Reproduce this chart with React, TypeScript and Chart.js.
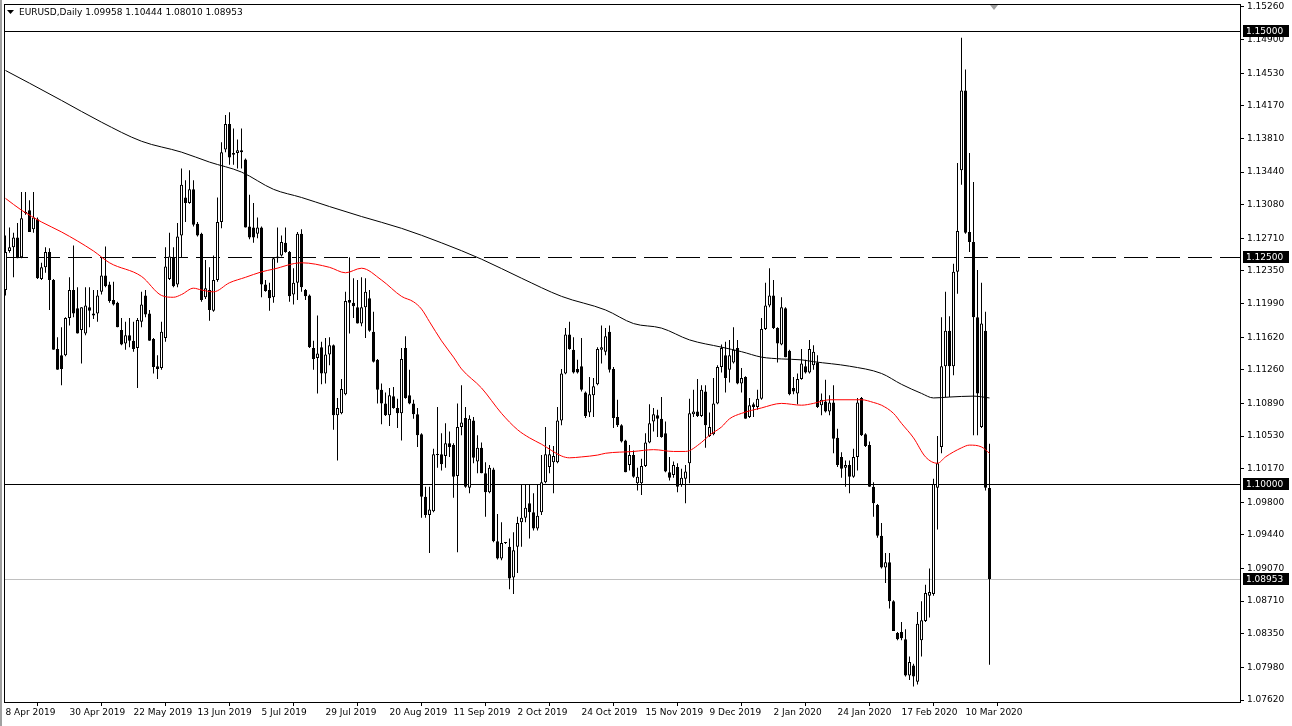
import React, { useEffect, useRef } from 'react';
import { Chart, registerables } from 'chart.js';

Chart.register(...registerables);

const chartTitle = 'EURUSD,Daily 1.09958 1.10444 1.08010 1.08953';

const opens = [
  1.1214, 1.1257, 1.1261, 1.1272, 1.1250, 1.1300, 1.1302, 1.1281, 1.1292, 1.1226,
  1.1239, 1.1256, 1.1225, 1.1149, 1.1142, 1.1142, 1.1183, 1.1214, 1.1194, 1.1170,
  1.1166, 1.1195, 1.1188, 1.1188, 1.1212, 1.1230, 1.1220, 1.1203, 1.1200, 1.1170,
  1.1155, 1.1164, 1.1158, 1.1150, 1.1179, 1.1208, 1.1188, 1.1160, 1.1130, 1.1128,
  1.1161, 1.1226, 1.1250, 1.1220, 1.1274, 1.1316, 1.1310, 1.1325, 1.1287, 1.1276,
  1.1206, 1.1214, 1.1191, 1.1225, 1.1289, 1.1369, 1.1397, 1.1365, 1.1365, 1.1368,
  1.1358, 1.1284, 1.1283, 1.1276, 1.1283, 1.1220, 1.1214, 1.1206, 1.1251, 1.1252,
  1.1266, 1.1256, 1.1209, 1.1222, 1.1276, 1.1214, 1.1208, 1.1150, 1.1139, 1.1151,
  1.1122, 1.1143, 1.1153, 1.1076, 1.1078, 1.1099, 1.1203, 1.1200, 1.1195, 1.1177,
  1.1195, 1.1205, 1.1168, 1.1137, 1.1104, 1.1089, 1.1076, 1.1097, 1.1084, 1.1078,
  1.1150, 1.1098, 1.1089, 1.1077, 1.1055, 1.0986, 1.0966, 1.0970, 1.1033, 1.1033,
  1.1031, 1.1045, 1.1043, 1.1009, 1.1063, 1.1073, 1.0996, 1.1070, 1.1025, 1.1040,
  1.1012, 1.0991, 1.1016, 1.0937, 1.0918, 1.0935, 1.0931, 1.0897, 1.0931, 1.0958,
  1.0963, 1.0979, 1.0969, 1.0951, 1.0969, 1.1002, 1.1019, 1.1024, 1.1024, 1.1070,
  1.1122, 1.1165, 1.1148, 1.1127, 1.1130, 1.1101, 1.1079, 1.1098, 1.1110, 1.1148,
  1.1146, 1.1168, 1.1127, 1.1074, 1.1065, 1.1048, 1.1021, 1.1032, 1.1001, 1.1001,
  1.1020, 1.1046, 1.1069, 1.1076, 1.1072, 1.1056, 1.1013, 1.1010, 1.1019, 1.0999,
  1.1006, 1.1023, 1.1077, 1.1080, 1.1075, 1.1102, 1.1053, 1.1055, 1.1089, 1.1129,
  1.1142, 1.1126, 1.1134, 1.1150, 1.1111, 1.1118, 1.1074, 1.1088, 1.1085, 1.1094,
  1.1171, 1.1197, 1.1208, 1.1172, 1.1154, 1.1194, 1.1147, 1.1106, 1.1100, 1.1116,
  1.1130, 1.1123, 1.1131, 1.1134, 1.1087, 1.1091, 1.1080, 1.1090, 1.1051, 1.1030,
  1.1018, 1.1021, 1.1008, 1.1030, 1.1095, 1.1055, 1.1043, 1.0997, 1.0977, 1.0943,
  1.0908, 1.0914, 1.0871, 1.0836, 1.0837, 1.0829, 1.0789, 1.0800, 1.0782, 1.0828,
  1.0849, 1.0877, 1.0879, 1.0996, 1.1041, 1.1130, 1.1169, 1.1130, 1.1234, 1.1346,
  1.1434, 1.1278, 1.1267, 1.1184, 1.1063, 1.1169, 1.09958,
];

const highs = [
  1.1274, 1.1283, 1.1277, 1.1288, 1.1322, 1.1322, 1.1313, 1.1322, 1.1294, 1.1244,
  1.1261, 1.1260, 1.1226, 1.1162, 1.1173, 1.1184, 1.1228, 1.1263, 1.1217, 1.1195,
  1.1217, 1.1217, 1.1214, 1.1214, 1.1250, 1.1262, 1.1223, 1.1223, 1.1201, 1.1183,
  1.1179, 1.1183, 1.1179, 1.1183, 1.1212, 1.1214, 1.1192, 1.1161, 1.1142, 1.1179,
  1.1261, 1.1277, 1.1261, 1.1288, 1.1348, 1.1335, 1.1346, 1.1335, 1.1289, 1.1277,
  1.1247, 1.1239, 1.1252, 1.1316, 1.1377, 1.1407, 1.1410, 1.1392, 1.1380, 1.1392,
  1.1359, 1.1319, 1.1310, 1.1294, 1.1284, 1.1225, 1.1222, 1.1250, 1.1283, 1.1274,
  1.1283, 1.1257, 1.1238, 1.1278, 1.1281, 1.1215, 1.1209, 1.1158, 1.1186, 1.1157,
  1.1161, 1.1162, 1.1154, 1.1095, 1.1116, 1.1212, 1.1250, 1.1227, 1.1225, 1.1228,
  1.1227, 1.1214, 1.1190, 1.1138, 1.1111, 1.1101, 1.1106, 1.1107, 1.1094, 1.1150,
  1.1163, 1.1126, 1.1093, 1.1084, 1.1056, 1.0997, 1.0997, 1.1039, 1.1085, 1.1056,
  1.1067, 1.1058, 1.1045, 1.1089, 1.1109, 1.1085, 1.1076, 1.1074, 1.1054, 1.1046,
  1.1024, 1.1021, 1.1018, 1.0967, 1.0958, 1.0936, 1.0940, 1.0947, 1.0964, 1.0999,
  1.0999, 1.0999, 1.0990, 1.0999, 1.1032, 1.1063, 1.1043, 1.1042, 1.1085, 1.1127,
  1.1172, 1.1179, 1.1162, 1.1137, 1.1161, 1.1102, 1.1118, 1.1117, 1.1151, 1.1175,
  1.1172, 1.1175, 1.1129, 1.1093, 1.1066, 1.1049, 1.1043, 1.1037, 1.1018, 1.1028,
  1.1056, 1.1088, 1.1084, 1.1082, 1.1096, 1.1069, 1.1030, 1.1025, 1.1023, 1.1017,
  1.1021, 1.1094, 1.1104, 1.1116, 1.1109, 1.1109, 1.1079, 1.1117, 1.1131, 1.1154,
  1.1157, 1.1159, 1.1173, 1.1159, 1.1128, 1.1119, 1.1095, 1.1090, 1.1104, 1.1183,
  1.1222, 1.1238, 1.1225, 1.1173, 1.1206, 1.1195, 1.1148, 1.1118, 1.1122, 1.1149,
  1.1137, 1.1159, 1.1153, 1.1142, 1.1100, 1.1115, 1.1098, 1.1109, 1.1061, 1.1035,
  1.1026, 1.1026, 1.1039, 1.1095, 1.1096, 1.1056, 1.1047, 1.1002, 1.0978, 1.0957,
  1.0924, 1.0924, 1.0872, 1.0837, 1.0848, 1.0840, 1.0810, 1.0802, 1.0859, 1.0871,
  1.0889, 1.0907, 1.1006, 1.1053, 1.1184, 1.1212, 1.1185, 1.1243, 1.1354, 1.1492,
  1.1457, 1.1365, 1.1333, 1.1236, 1.1222, 1.1190, 1.10444,
];

const lows = [
  1.1208, 1.1255, 1.1228, 1.1249, 1.1249, 1.1297, 1.1278, 1.1277, 1.1226, 1.1225,
  1.1233, 1.1192, 1.1148, 1.1126, 1.1109, 1.1141, 1.1175, 1.1184, 1.1166, 1.1133,
  1.1164, 1.1173, 1.1182, 1.1179, 1.1209, 1.1217, 1.1200, 1.1197, 1.1173, 1.1153,
  1.1148, 1.1151, 1.1146, 1.1106, 1.1173, 1.1184, 1.1158, 1.1122, 1.1116, 1.1126,
  1.1157, 1.1225, 1.1217, 1.1217, 1.1250, 1.1289, 1.1309, 1.1284, 1.1273, 1.1201,
  1.1204, 1.1180, 1.1190, 1.1223, 1.1282, 1.1366, 1.1352, 1.1352, 1.1348, 1.1348,
  1.1283, 1.1270, 1.1266, 1.1271, 1.1206, 1.1212, 1.1191, 1.1200, 1.1244, 1.1251,
  1.1255, 1.1201, 1.1198, 1.1203, 1.1212, 1.1203, 1.1150, 1.1126, 1.1100, 1.1110,
  1.1111, 1.1131, 1.1060, 1.1026, 1.1077, 1.1098, 1.1166, 1.1183, 1.1177, 1.1174,
  1.1161, 1.1168, 1.1134, 1.1089, 1.1066, 1.1075, 1.1064, 1.1083, 1.1062, 1.1048,
  1.1094, 1.1088, 1.1072, 1.1041, 1.0963, 1.0963, 1.0924, 1.0969, 1.1018, 1.1015,
  1.1018, 1.1030, 1.0985, 1.0925, 1.1054, 1.0996, 1.0990, 1.1023, 1.1012, 1.1012,
  1.0964, 1.0990, 1.0936, 1.0917, 1.0916, 1.0934, 1.0884, 1.0879, 1.0902, 1.0931,
  1.0958, 1.0940, 1.0949, 1.0949, 1.0966, 1.1001, 1.1012, 1.0990, 1.1023, 1.1065,
  1.1121, 1.1148, 1.1122, 1.1122, 1.1102, 1.1073, 1.1074, 1.1074, 1.1109, 1.1133,
  1.1142, 1.1123, 1.1062, 1.1063, 1.1046, 1.1013, 1.1015, 1.1007, 1.0993, 1.0988,
  1.1019, 1.1045, 1.1058, 1.1052, 1.1051, 1.1013, 1.1004, 1.1007, 1.0991, 1.0997,
  1.0979, 1.1001, 1.1074, 1.1074, 1.1074, 1.1040, 1.1052, 1.1054, 1.1088, 1.1123,
  1.1101, 1.1112, 1.1133, 1.1110, 1.1101, 1.1072, 1.1073, 1.1074, 1.1082, 1.1093,
  1.1170, 1.1195, 1.1171, 1.1134, 1.1153, 1.1140, 1.1098, 1.1099, 1.1088, 1.1115,
  1.1122, 1.1122, 1.1126, 1.1084, 1.1076, 1.1079, 1.1076, 1.1034, 1.1019, 1.1007,
  1.0997, 1.0990, 1.1007, 1.1015, 1.1053, 1.1041, 1.0997, 1.0964, 1.0941, 1.0907,
  1.0891, 1.0863, 1.0838, 1.0828, 1.0828, 1.0788, 1.0784, 1.0777, 1.0779, 1.0810,
  1.0848, 1.0853, 1.0877, 1.0950, 1.1034, 1.1096, 1.1096, 1.1120, 1.1210, 1.1330,
  1.1276, 1.1256, 1.1054, 1.1054, 1.1062, 1.0993, 1.0801,
];

const closes = [
  1.1256, 1.1261, 1.1272, 1.1249, 1.1293, 1.1299, 1.1278, 1.1294, 1.1227, 1.1239,
  1.1256, 1.1225, 1.1148, 1.1126, 1.1127, 1.1183, 1.1214, 1.1188, 1.1166, 1.1195,
  1.1197, 1.1191, 1.1186, 1.1208, 1.1230, 1.1218, 1.1202, 1.1198, 1.1173, 1.1154,
  1.1164, 1.1158, 1.1149, 1.1181, 1.1198, 1.1187, 1.1158, 1.1129, 1.1127, 1.1168,
  1.1240, 1.1251, 1.1218, 1.1273, 1.1330, 1.1310, 1.1325, 1.1286, 1.1274, 1.1203,
  1.1216, 1.1192, 1.1225, 1.1289, 1.1366, 1.1397, 1.1360, 1.1363, 1.1368, 1.1366,
  1.1283, 1.1272, 1.1272, 1.1283, 1.1220, 1.1213, 1.1205, 1.1249, 1.1249, 1.1267,
  1.1256, 1.1207, 1.1222, 1.1276, 1.1217, 1.1207, 1.1151, 1.1138, 1.1144, 1.1122,
  1.1143, 1.1153, 1.1076, 1.1084, 1.1105, 1.1202, 1.1200, 1.1196, 1.1177, 1.1195,
  1.1212, 1.1169, 1.1135, 1.1104, 1.1089, 1.1076, 1.1098, 1.1084, 1.1078, 1.1138,
  1.1095, 1.1089, 1.1077, 1.1054, 1.0986, 1.0966, 1.0972, 1.1033, 1.1032, 1.1022,
  1.1045, 1.1041, 1.1008, 1.1063, 1.1068, 1.0997, 1.1072, 1.1029, 1.1040, 1.1012,
  1.0991, 1.1018, 1.0937, 1.0918, 1.0935, 1.0935, 1.0896, 1.0927, 1.0957, 1.0963,
  1.0974, 1.0969, 1.0951, 1.0965, 1.1002, 1.1033, 1.1033, 1.1031, 1.1070, 1.1122,
  1.1165, 1.1149, 1.1123, 1.1123, 1.1104, 1.1075, 1.1099, 1.1108, 1.1149, 1.1151,
  1.1163, 1.1126, 1.1073, 1.1065, 1.1047, 1.1013, 1.1032, 1.1008, 1.1008, 1.1020,
  1.1046, 1.1067, 1.1077, 1.1072, 1.1052, 1.1014, 1.1007, 1.1021, 1.0997, 1.1007,
  1.1014, 1.1078, 1.1080, 1.1075, 1.1104, 1.1065, 1.1063, 1.1089, 1.1129, 1.1150,
  1.1117, 1.1142, 1.1148, 1.1111, 1.1117, 1.1072, 1.1087, 1.1085, 1.1094, 1.1171,
  1.1197, 1.1208, 1.1172, 1.1155, 1.1195, 1.1140, 1.1099, 1.1102, 1.1116, 1.1133,
  1.1123, 1.1149, 1.1146, 1.1085, 1.1093, 1.1080, 1.1090, 1.1050, 1.1021, 1.1017,
  1.1021, 1.1008, 1.1030, 1.1090, 1.1054, 1.1042, 1.0997, 1.0979, 1.0943, 1.0908,
  1.0914, 1.0871, 1.0838, 1.0829, 1.0830, 1.0789, 1.0804, 1.0788, 1.0846, 1.0850,
  1.0880, 1.0881, 1.1000, 1.1023, 1.1130, 1.1169, 1.1130, 1.1234, 1.1279, 1.1434,
  1.1277, 1.1267, 1.1184, 1.1100, 1.1177, 1.0996, 1.08953,
];

// Red moving average, read at selected bars
const redMaBars = [
  0, 4, 9, 14, 22, 26, 34, 39, 42, 44, 47, 49, 52, 56, 60, 64, 67, 74, 81, 85,
  89, 94, 99, 102, 104, 106, 109, 112, 114, 119, 124, 128, 131, 134, 139, 141, 144, 148, 150, 157,
  162, 167, 170, 174, 176, 179, 181, 184, 189, 194, 199, 202, 206, 214, 217, 219, 222, 224, 227, 230,
  233, 235, 239, 241, 244, 246,
];
const redMaValues = [
  1.1315, 1.1302, 1.1289, 1.1278, 1.1257, 1.1244, 1.1229, 1.1208, 1.1206, 1.1209, 1.1216, 1.1214, 1.1212, 1.1222, 1.1228, 1.1234, 1.1237, 1.1244, 1.1239, 1.1233,
  1.1238, 1.1225, 1.1207, 1.1201, 1.1193, 1.1179, 1.1158, 1.1140, 1.1127, 1.1106, 1.1078, 1.1060, 1.1051, 1.1044, 1.1031, 1.1029, 1.1030, 1.1032, 1.1034, 1.1036,
  1.1038, 1.1036, 1.1036, 1.1046, 1.1054, 1.1063, 1.1072, 1.1078, 1.1084, 1.1089, 1.1087, 1.1089, 1.1093, 1.1093, 1.1090, 1.1087, 1.1078, 1.1067, 1.1051, 1.1030,
  1.1023, 1.1030, 1.1040, 1.1043, 1.1041, 1.1034,
];

// Black (slow) moving average, read at selected bars
const blackMaBars = [
  0, 6, 14, 24, 34, 44, 51, 59, 67, 74, 81, 89, 99, 109, 119, 129, 139, 150, 157, 164,
  171, 179, 184, 189, 194, 199, 202, 211, 219, 224, 229, 232, 236, 242, 246,
];
const blackMaValues = [
  1.1456, 1.1442, 1.1423, 1.1399, 1.1378, 1.1366, 1.1355, 1.1344, 1.1325, 1.1316, 1.1306, 1.1295, 1.1282, 1.1266, 1.1248, 1.1227, 1.1207, 1.1192, 1.1177, 1.1172,
  1.1159, 1.1151, 1.1146, 1.1140, 1.1138, 1.1137, 1.1135, 1.1130, 1.1122, 1.1110, 1.1100, 1.1095, 1.1096, 1.1097, 1.1095,
];

const dateLabels = [
  '8 Apr 2019', '30 Apr 2019', '22 May 2019', '13 Jun 2019', '5 Jul 2019', '29 Jul 2019',
  '20 Aug 2019', '11 Sep 2019', '2 Oct 2019', '24 Oct 2019', '15 Nov 2019', '9 Dec 2019',
  '2 Jan 2020', '24 Jan 2020', '17 Feb 2020', '10 Mar 2020',
];
const dateLabelBars = [0, 16, 32, 48, 64, 80, 96, 112, 128, 144, 160, 176, 192, 208, 224, 240];

const priceTicks = [
  1.0762, 1.0798, 1.0835, 1.0871, 1.0907, 1.0944, 1.098, 1.1017, 1.1053, 1.1089, 1.1126,
  1.1162, 1.1199, 1.1235, 1.1271, 1.1308, 1.1344, 1.1381, 1.1417, 1.1453, 1.149, 1.1526,
];

const solidLevels = [1.15, 1.1];
const dashedLevels = [1.125];
const bidPrice = 1.08953;

const FONT_FAMILY = '"DejaVu Sans", Tahoma, sans-serif';
const FONT_SIZE = 9;

export default function App() {
  const canvasRef = useRef<HTMLCanvasElement | null>(null);

  useEffect(() => {
    document.body.style.margin = '0';
    document.body.style.background = '#ffffff';
    const canvas = canvasRef.current;
    if (!canvas) return;

    const idx = opens.map((_, i) => i);
    const wickData = idx.map((i) => ({ x: i, y: [lows[i], highs[i]] }));
    const bodyData = idx.map((i) => ({ x: i, y: [opens[i], closes[i]] }));
    const bodyFill = idx.map((i) => (closes[i] >= opens[i] ? '#ffffff' : '#000000'));

    const overlay = {
      id: 'mt4Overlay',
      beforeDatasetsDraw(chart: any) {
        const { ctx, chartArea: a, scales } = chart;
        const y = scales.y;
        const py = (v: number) => Math.round(y.getPixelForValue(v)) + 0.5;
        ctx.save();
        ctx.lineWidth = 1;
        ctx.strokeStyle = '#c0c0c0';
        ctx.beginPath();
        ctx.moveTo(a.left, py(bidPrice));
        ctx.lineTo(a.right, py(bidPrice));
        ctx.stroke();
        ctx.strokeStyle = '#000000';
        solidLevels.forEach((v) => {
          ctx.beginPath();
          ctx.moveTo(a.left, py(v));
          ctx.lineTo(a.right, py(v));
          ctx.stroke();
        });
        ctx.setLineDash([24, 8]);
        dashedLevels.forEach((v) => {
          ctx.beginPath();
          ctx.moveTo(a.left, py(v));
          ctx.lineTo(a.right, py(v));
          ctx.stroke();
        });
        ctx.restore();
      },
      afterDraw(chart: any) {
        const { ctx, chartArea: a, scales, width, height } = chart;
        const y = scales.y;
        ctx.save();
        // window edge
        ctx.fillStyle = '#a0a0a0';
        ctx.fillRect(0, 0, 2, height);
        // frame
        ctx.strokeStyle = '#000000';
        ctx.lineWidth = 1;
        ctx.strokeRect(a.left + 0.5, a.top + 0.5, a.right - a.left, a.bottom - a.top);
        // header
        ctx.fillStyle = '#000000';
        ctx.beginPath();
        ctx.moveTo(7, 10);
        ctx.lineTo(14, 10);
        ctx.lineTo(10.5, 14);
        ctx.closePath();
        ctx.fill();
        ctx.font = `${FONT_SIZE}px ${FONT_FAMILY}`;
        ctx.textBaseline = 'middle';
        ctx.textAlign = 'left';
        ctx.fillText(chartTitle, 19, 12.5);
        // chart shift marker
        ctx.fillStyle = '#a0a0a0';
        ctx.beginPath();
        ctx.moveTo(990, 5);
        ctx.lineTo(998, 5);
        ctx.lineTo(994, 10);
        ctx.closePath();
        ctx.fill();
        // price boxes
        const boxes = [...solidLevels, ...dashedLevels, bidPrice];
        boxes.forEach((v) => {
          const yy = Math.round(y.getPixelForValue(v));
          ctx.fillStyle = '#000000';
          ctx.fillRect(a.right + 3, yy - 6, 46, 12);
          ctx.fillStyle = '#ffffff';
          ctx.fillText(v.toFixed(5), a.right + 6, yy + 0.5);
        });
        ctx.restore();
      },
    };

    const chart = new Chart(canvas, {
      type: 'bar',
      data: {
        datasets: [
          {
            type: 'line',
            data: redMaBars.map((b, k) => ({ x: b, y: redMaValues[k] })),
            borderColor: '#ff0000',
            borderWidth: 1,
            pointRadius: 0,
            cubicInterpolationMode: 'monotone',
            order: 0,
          } as any,
          {
            type: 'line',
            data: blackMaBars.map((b, k) => ({ x: b, y: blackMaValues[k] })),
            borderColor: '#000000',
            borderWidth: 1,
            pointRadius: 0,
            cubicInterpolationMode: 'monotone',
            order: 0,
          } as any,
          {
            type: 'bar',
            data: bodyData as any,
            backgroundColor: bodyFill,
            borderColor: '#000000',
            borderWidth: 1,
            borderSkipped: false,
            grouped: false,
            barPercentage: 1,
            categoryPercentage: 1,
            maxBarThickness: 3,
            minBarLength: 1,
            inflateAmount: 0,
            order: 1,
          } as any,
          {
            type: 'bar',
            data: wickData as any,
            backgroundColor: '#000000',
            borderWidth: 0,
            grouped: false,
            barPercentage: 1,
            categoryPercentage: 1,
            maxBarThickness: 1,
            minBarLength: 1,
            inflateAmount: 0,
            order: 2,
          } as any,
        ],
      },
      options: {
        responsive: false,
        animation: false,
        devicePixelRatio: 1,
        events: [],
        layout: { padding: { left: 4, top: 4, right: 0, bottom: 0 } },
        plugins: { legend: { display: false }, tooltip: { enabled: false } },
        scales: {
          x: {
            type: 'linear',
            position: 'bottom',
            min: -0.375,
            max: 308.625,
            offset: false,
            border: { display: false },
            grid: { drawOnChartArea: false, drawTicks: true, tickLength: 4, color: '#000000' },
            ticks: {
              autoSkip: false,
              maxRotation: 0,
              minRotation: 0,
              align: 'start',
              padding: 1,
              color: '#000000',
              font: { family: FONT_FAMILY, size: FONT_SIZE },
              callback: (_v: any, i: number) => dateLabels[i],
            },
            afterBuildTicks: (s: any) => {
              s.ticks = dateLabelBars.map((v) => ({ value: v }));
            },
            afterFit: (s: any) => {
              s.height = 24;
              s.paddingLeft = 0;
              s.paddingRight = 0;
            },
          } as any,
          y: {
            type: 'linear',
            position: 'right',
            min: 1.07598,
            max: 1.15293,
            border: { display: false },
            grid: { drawOnChartArea: false, drawTicks: true, tickLength: 4, color: '#000000' },
            ticks: {
              padding: 3,
              color: '#000000',
              font: { family: FONT_FAMILY, size: FONT_SIZE },
              callback: (v: any) => Number(v).toFixed(5),
            },
            afterBuildTicks: (s: any) => {
              s.ticks = priceTicks.map((v) => ({ value: v }));
            },
            afterFit: (s: any) => {
              s.width = 52;
              s.paddingTop = 0;
              s.paddingBottom = 0;
            },
          } as any,
        },
      },
      plugins: [overlay],
    } as any);

    return () => chart.destroy();
  }, []);

  return (
    <div style={{ width: 1292, height: 726, background: '#ffffff', overflow: 'hidden' }}>
      <canvas ref={canvasRef} width={1292} height={726} style={{ display: 'block' }} />
    </div>
  );
}
